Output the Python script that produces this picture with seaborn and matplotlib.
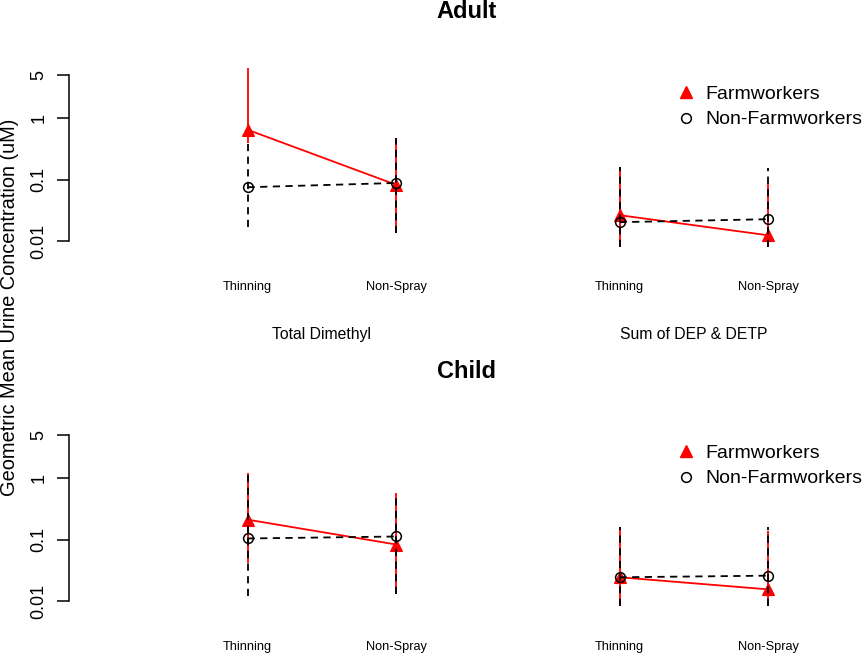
import matplotlib
matplotlib.use("Agg")
import matplotlib.pyplot as plt
from matplotlib.lines import Line2D
import pandas as pd
import seaborn as sns

# -------------------------
# Data
# -------------------------
categories = ["Thinning", "Non-Spray"]
compounds = ["Total Dimethyl", "Sum of DEP & DETP"]
x_pos = [1, 2, 3.5, 4.5]          # Thinning/Non-Spray for each compound
x_compound = ["Total Dimethyl", "Total Dimethyl", "Sum of DEP & DETP", "Sum of DEP & DETP"]
x_labels = ["Thinning", "Non-Spray", "Thinning", "Non-Spray"]

# Adult
adult_farm_gm = [0.64, 0.082, 0.0265, 0.0125]
adult_farm_lo = [0.39, 0.0134, 0.008, 0.008]
adult_farm_hi = [6.3, 0.47, 0.16, 0.092]
adult_non_gm = [0.075, 0.088, 0.0204, 0.0228]
adult_non_lo = [0.017, 0.0134, 0.008, 0.008]
adult_non_hi = [0.39, 0.47, 0.16, 0.154]

# Child
child_farm_gm = [0.21, 0.083, 0.0245, 0.0156]
child_farm_lo = [0.042, 0.013, 0.0083, 0.0083]
child_farm_hi = [1.2, 0.57, 0.162, 0.14]
child_non_gm = [0.104, 0.112, 0.0245, 0.026]
child_non_lo = [0.012, 0.013, 0.0083, 0.0083]
child_non_hi = [1.2, 0.57, 0.162, 0.162]

y_ticks = [0.01, 0.1, 1, 5]
y_tick_labels = ["0.01", "0.1", "1", "5"]

sns.set_style("ticks")
plt.rcParams["font.family"] = ["Liberation Sans", "DejaVu Sans"]
plt.rcParams.update({"text.color": "black", "axes.labelcolor": "black",
                     "xtick.color": "black", "ytick.color": "black",
                     "axes.edgecolor": "black"})

fig = plt.figure(figsize=(8.65, 6.56), dpi=100)
ax_top = fig.add_axes([69 / 865, 1 - 255 / 656, 796 / 865, 199 / 656])
ax_bot = fig.add_axes([69 / 865, 1 - 615 / 656, 796 / 865, 199 / 656])


def make_df(gm, lo, hi, group):
    return pd.DataFrame({"pos": x_pos, "compound": x_compound, "gm": gm,
                         "lo": lo, "hi": hi, "group": group})


def draw_panel(ax, title, farm, non, show_compounds):
    ax.set_yscale("log")
    # farmworkers: red solid
    ax.vlines(farm["pos"], farm["lo"], farm["hi"], colors="red", linewidth=1.3)
    sns.lineplot(data=farm, x="pos", y="gm", units="compound", estimator=None,
                 color="red", marker="^", markersize=9, markeredgecolor="red",
                 markeredgewidth=0.8, linewidth=1.3, ax=ax)
    # non-farmworkers: black dashed, open circles
    ax.vlines(non["pos"], non["lo"], non["hi"], colors="black", linewidth=1.3,
              linestyles=(0, (4, 3)))
    sns.lineplot(data=non, x="pos", y="gm", units="compound", estimator=None,
                 color="black", marker="o", markersize=7, markerfacecolor="none",
                 markeredgecolor="black", markeredgewidth=1.1, linewidth=1.3,
                 dashes=False, linestyle=(0, (4, 3)), ax=ax)

    ax.set_xlim(-0.2, 5.15)
    ax.set_ylim(0.006, 10)
    ax.set_yticks(y_ticks)
    ax.set_yticklabels(y_tick_labels)
    ax.yaxis.set_minor_locator(matplotlib.ticker.NullLocator())
    ax.tick_params(axis="y", labelrotation=90, labelsize=13, length=8.6,
                   width=1.1, pad=7)
    for lab in ax.get_yticklabels():
        lab.set_va("center")
    ax.set_xticks(x_pos)
    ax.set_xticklabels(x_labels)
    ax.tick_params(axis="x", length=0, labelsize=9.2, pad=19)
    ax.set_xlabel("")
    ax.set_ylabel("")
    sns.despine(ax=ax, bottom=True)
    ax.spines["left"].set_bounds(y_ticks[0], y_ticks[-1])
    ax.spines["left"].set_linewidth(1.1)
    ax.set_title(title, fontsize=17, fontweight="bold", pad=27)

    if show_compounds:
        for i, name in enumerate(compounds):
            xs = [p for p, c in zip(x_pos, x_compound) if c == name]
            ax.text(sum(xs) / len(xs), -0.4, name, fontsize=11.3,
                    ha="center", va="center",
                    transform=ax.get_xaxis_transform())

    handles = [
        Line2D([], [], color="red", marker="^", linestyle="none", markersize=9),
        Line2D([], [], color="black", marker="o", linestyle="none", markersize=7,
               markerfacecolor="none", markeredgewidth=1.1),
    ]
    return handles


legend_kw = dict(loc="upper left", bbox_transform=fig.transFigure, frameon=False,
                 fontsize=14, handlelength=1.0, handletextpad=0.5,
                 labelspacing=0.42, borderpad=0, borderaxespad=0)

h = draw_panel(ax_top, "Adult",
               make_df(adult_farm_gm, adult_farm_lo, adult_farm_hi, "Farmworkers"),
               make_df(adult_non_gm, adult_non_lo, adult_non_hi, "Non-Farmworkers"),
               True)
ax_top.legend(h, ["Farmworkers", "Non-Farmworkers"],
              bbox_to_anchor=(676 / 865, 1 - 85 / 656), **legend_kw)

h = draw_panel(ax_bot, "Child",
               make_df(child_farm_gm, child_farm_lo, child_farm_hi, "Farmworkers"),
               make_df(child_non_gm, child_non_lo, child_non_hi, "Non-Farmworkers"),
               False)
ax_bot.legend(h, ["Farmworkers", "Non-Farmworkers"],
              bbox_to_anchor=(676 / 865, 1 - 444 / 656), **legend_kw)

fig.text(10 / 865, 1 - 307 / 656, "Geometric Mean Urine Concentration (uM)",
         rotation=90, ha="center", va="center", fontsize=14.4)

fig.savefig("out.png", dpi=100)
